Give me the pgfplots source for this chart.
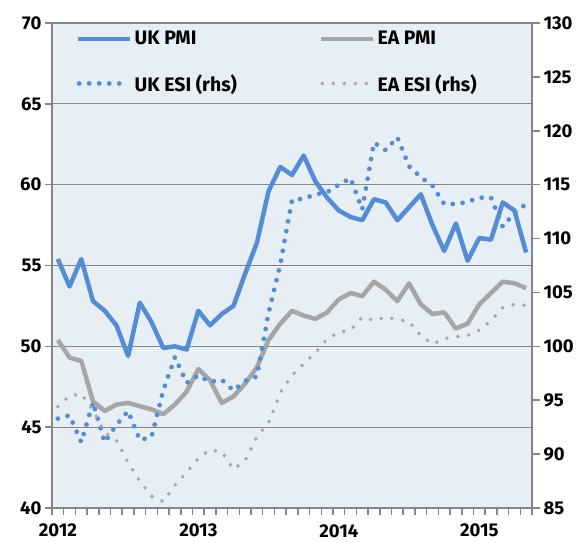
\documentclass[border=0pt]{standalone}
\usepackage{pgfplots}
\usepackage{pgfplotstable}
\pgfplotsset{compat=1.18}
\usepackage{fontspec}
\setmainfont{Fira Sans}
\definecolor{ukblue}{RGB}{85,141,213}
\definecolor{eagrey}{RGB}{166,166,166}
\definecolor{bgc}{RGB}{231,238,244}
\definecolor{gridc}{RGB}{134,134,134}

% month index: 0 = Jan 2012 ... 40 = May 2015
\pgfplotstableread{
i ukpmi eapmi
0 55.4 50.4
1 53.7 49.3
2 55.4 49.1
3 52.8 46.6
4 52.2 46.0
5 51.3 46.4
6 49.4 46.5
7 52.7 46.3
8 51.5 46.1
9 49.9 45.8
10 50.0 46.4
11 49.8 47.2
12 52.2 48.6
13 51.3 47.9
14 52.0 46.5
15 52.5 46.9
16 54.5 47.7
17 56.4 48.7
18 59.6 50.4
19 61.1 51.4
20 60.6 52.2
21 61.8 51.9
22 60.2 51.7
23 59.2 52.1
24 58.4 52.9
25 58.0 53.3
26 57.8 53.1
27 59.1 54.0
28 58.9 53.5
29 57.8 52.8
30 58.6 53.9
31 59.4 52.6
32 57.5 52.0
33 55.9 52.1
34 57.6 51.1
35 55.3 51.4
36 56.7 52.6
37 56.6 53.3
38 58.9 54.0
39 58.4 53.9
40 55.8 53.6
}\pmitable

\pgfplotstableread{
i ukesi eaesi
0 93.3 94.4
1 93.6 95.4
2 91.1 95.6
3 94.8 94.1
4 91.1 92.0
5 92.7 91.3
6 94.0 89.2
7 91.3 87.5
8 91.6 86.1
9 95.9 85.6
10 99.0 87.1
11 96.6 88.3
12 97.3 89.6
13 96.7 90.4
14 96.9 90.2
15 95.9 88.6
16 96.8 89.4
17 97.2 91.6
18 103.1 92.9
19 107.6 95.7
20 113.6 97.3
21 113.7 98.4
22 114.1 99.4
23 114.3 100.7
24 115.0 101.3
25 115.6 101.5
26 112.7 102.7
27 118.9 102.4
28 118.2 102.7
29 119.4 102.5
30 116.7 102.3
31 115.7 101.0
32 114.9 100.2
33 113.2 100.7
34 113.2 100.9
35 113.4 101.0
36 113.8 101.5
37 113.8 102.4
38 111.1 103.6
39 112.4 103.9
40 113.2 103.8
}\esitable

\pgfplotsset{
  common/.style={
    at={(52pt,34pt)}, anchor=south west,
    scale only axis, width=480pt, height=485pt,
    xmin=-0.5, xmax=40.5,
    axis line style={gridc, line width=1.8pt},
    tick style={gridc, line width=1.5pt},
    tick align=outside,
    /pgf/number format/assume math mode=true,
    ticklabel style={font=\fontsize{18.5}{21}\selectfont\bfseries},
  },
  solidline/.style={line width=4.5pt, line join=round},
  ukdot/.style={ukblue, line width=4.8pt, line cap=round, dash pattern=on 0pt off 10pt},
  eadot/.style={eagrey, line width=3.9pt, line cap=round, dash pattern=on 0pt off 11pt},
  legsolid/.style={legend image code/.code={\draw[##1] (0pt,0pt) -- (52pt,0pt);}},
  legdotuk/.style={legend image code/.code={\draw[##1] (1pt,0pt) -- (43pt,0pt); \path (52pt,0pt);}},
  legdotea/.style={legend image code/.code={\draw[##1] (1pt,0pt) -- (46pt,0pt); \path (52pt,0pt);}},
}

\begin{document}
\begin{tikzpicture}[font=\fontsize{18.5}{21}\selectfont\bfseries]
\useasboundingbox (0,0) rectangle (586pt,542pt);
\begin{axis}[common,
  axis background/.style={fill=bgc},
  ymin=40, ymax=70, ytick={40,45,...,70},
  ymajorgrids, grid style={gridc, line width=1.3pt},
  ytick pos=left, xtick pos=bottom,
  major tick length=7pt,
  xtick={0,12,24,36}, xticklabels={2012,2013,2014,2015},
  x tick style={draw=none},
  minor xtick={-0.5,0.5,...,40.5},
  minor x tick style={draw=gridc, line width=1.5pt},
  minor tick length=7pt,
  xticklabel style={anchor=north, yshift=-8pt, inner ysep=1pt},
  legend columns=2,
  legend style={draw=none, fill=none, inner sep=0pt, outer sep=0pt,
    at={(rel axis cs:0.05,0.987)}, anchor=north west,
    nodes={inner sep=2pt, font=\fontsize{19.5}{22}\selectfont\bfseries},
    row sep=24pt,
    /tikz/every even column/.append style={column sep=80pt}},
  legend cell align=left,
]
\addplot[ukblue, solidline, legsolid] table[x=i, y=ukpmi] {\pmitable};
\addlegendentry{UK PMI}
\addplot[eagrey, solidline, legsolid] table[x=i, y=eapmi] {\pmitable};
\addlegendentry{EA PMI}
\addlegendimage{ukdot, legdotuk}
\addlegendentry{UK ESI (rhs)}
\addlegendimage{eadot, legdotea}
\addlegendentry{EA ESI (rhs)}
\end{axis}
\begin{axis}[common,
  ymin=85, ymax=130, ytick={85,90,...,130},
  axis x line=none, axis y line*=right,
  major tick length=8pt,
]
\addplot[ukdot] table[x=i, y=ukesi] {\esitable};
\addplot[eadot] table[x=i, y=eaesi] {\esitable};
\end{axis}
\end{tikzpicture}
\end{document}
